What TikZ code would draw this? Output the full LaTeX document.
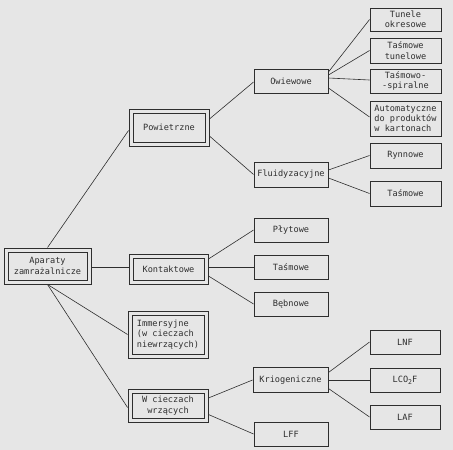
\documentclass[tikz,border=0pt]{standalone}
\usepackage{fontspec}
\newfontfamily\plotfont{DejaVu Sans Mono}
\definecolor{bg}{HTML}{E6E6E6}
\definecolor{ink}{HTML}{2E2E2E}
\tikzset{
  box/.style={draw=ink, line width=0.9pt, text=ink,
    font=\plotfont\fontsize{8.6pt}{10.3pt}\selectfont,
    align=center, inner sep=0pt, minimum width=74pt, minimum height=24pt},
  dbox/.style={box},
  innerframe/.style={draw=ink, line width=0.9pt},
  link/.style={draw=ink, line width=0.6pt},
}
\begin{document}
\begin{tikzpicture}[x=1pt,y=-1pt]
\useasboundingbox (0,0) rectangle (453,450);
\fill[bg] (0,0) rectangle (453,450);
% level 0
\node[dbox, minimum width=87pt, minimum height=36pt] (ap) at (47.5,266) {Aparaty\\zamrażalnicze};
% level 1
\node[dbox, minimum width=80pt, minimum height=37pt] (pow) at (169,127.5) {Powietrzne};
\node[dbox, minimum width=79pt, minimum height=30pt] (kon) at (168.5,269) {Kontaktowe};
\node[dbox, minimum width=80pt, minimum height=47pt, align=left] (imm) at (168,334.5) {Immersyjne\\(w cieczach\\niewrzących)};
\node[dbox, minimum width=80pt, minimum height=33pt] (wc) at (168,405.5) {W cieczach\\wrzących};
\foreach \n in {ap,pow,kon,imm,wc}
  \draw[innerframe] ([shift={(4.5,4.5)}]\n.north west) rectangle ([shift={(-4.5,-4.5)}]\n.south east);
% level 2
\node[box] (owi) at (291,81) {Owiewowe};
\node[box, minimum height=25pt] (flu) at (291,174.5) {Fluidyzacyjne};
\node[box] (ply) at (291,230) {Płytowe};
\node[box] (tk) at (291,267) {Taśmowe};
\node[box] (beb) at (291,304) {Bębnowe};
\node[box, minimum width=75pt, minimum height=25pt] (kri) at (290.5,380) {Kriogeniczne};
\node[box] (lff) at (291,434) {LFF};
% level 3
\node[box, minimum width=71pt, minimum height=23pt] (tun) at (405.5,19.5) {Tunele\\okresowe};
\node[box, minimum width=71pt, minimum height=25pt] (tt) at (405.5,50.5) {Taśmowe\\tunelowe};
\node[box, minimum width=71pt, minimum height=24pt] (ts) at (405.5,81) {Taśmowo-\\-spiralne};
\node[box, minimum width=71pt, minimum height=35pt, align=left] (aut) at (405.5,118.5) {Automatyczne\\do produktów\\w kartonach};
\node[box, minimum width=71pt, minimum height=25pt] (ryn) at (405.5,155.5) {Rynnowe};
\node[box, minimum width=71pt, minimum height=25pt] (tas) at (405.5,193.5) {Taśmowe};
\node[box, minimum width=70pt] (lnf) at (405,342) {LNF};
\node[box, minimum width=70pt] (lco) at (405,380) {LCO\raisebox{-2pt}{\fontsize{6.5pt}{6.5pt}\selectfont 2}F};
\node[box, minimum width=70pt] (laf) at (405,417) {LAF};
% connectors
\draw[link] (ap.north) -- ([yshift=-3pt]pow.west);
\draw[link] (ap.east |- tk) -- (kon.west |- tk);
\draw[link] (ap.south) -- (imm.west);
\draw[link] (ap.south) -- ([yshift=-2pt]wc.west);
\draw[link] ([yshift=8.5pt]pow.east) -- ([yshift=-1pt]owi.west);
\draw[link] ([yshift=-8.5pt]pow.east) -- (flu.west);
\draw[link] ([yshift=9pt]owi.east) -- (tun.west);
\draw[link] ([yshift=6pt]owi.east) -- (tt.west);
\draw[link] ([yshift=3pt]owi.east) -- ([yshift=1pt]ts.west);
\draw[link] ([yshift=-7pt]owi.east) -- ([yshift=1.5pt]aut.west);
\draw[link] ([yshift=4.5pt]flu.east) -- (ryn.west);
\draw[link] ([yshift=-3.5pt]flu.east) -- (tas.west);
\draw[link] ([yshift=10pt]kon.east) -- (ply.west);
\draw[link] (kon.east |- tk) -- (tk.west);
\draw[link] ([yshift=-7pt]kon.east) -- (beb.west);
\draw[link] ([yshift=7.5pt]wc.east) -- (kri.west);
\draw[link] ([yshift=-9pt]wc.east) -- (lff.west);
\draw[link] ([yshift=7.5pt]kri.east) -- (lnf.west);
\draw[link] (kri.east) -- (kri.east -| lco.west);
\draw[link] ([yshift=-8.5pt]kri.east) -- (laf.west);
\end{tikzpicture}
\end{document}
